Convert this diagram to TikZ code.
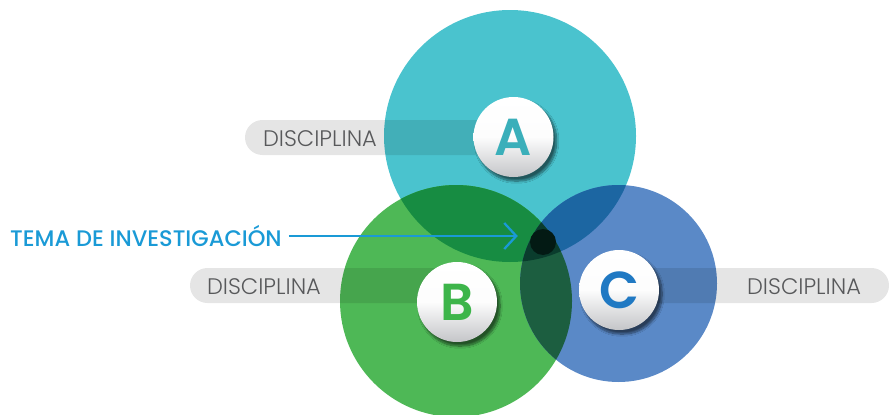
\documentclass[tikz,border=0pt]{standalone}
\usepackage{fontspec}
\setmainfont{Poppins}
\newfontfamily\lightfont{Poppins Light}
\newfontfamily\mediumfont{Poppins Medium}
\newfontfamily\semifont{Poppins SemiBold}
\usetikzlibrary{shadows.blur,arrows.meta}

\definecolor{circA}{RGB}{74,195,206}
\definecolor{circB}{RGB}{78,184,86}
\definecolor{circC}{RGB}{90,137,199}
\definecolor{ovAB}{RGB}{23,140,66}
\definecolor{ovAC}{RGB}{28,102,162}
\definecolor{ovBC}{RGB}{28,94,64}
\definecolor{ovABC}{RGB}{10,60,45}
\definecolor{hub}{RGB}{3,26,20}
\definecolor{labelgray}{RGB}{88,89,91}
\definecolor{temablue}{RGB}{26,154,214}
\definecolor{letA}{RGB}{58,175,186}
\definecolor{letB}{RGB}{61,181,74}
\definecolor{letC}{RGB}{32,121,195}
\definecolor{badgelow}{RGB}{196,197,200}

\tikzset{
  pill/.style={fill=black, fill opacity=0.1, rounded corners=17.5pt},
  disc/.style={text=labelgray, font=\lightfont\fontsize{22.5}{22.5}\selectfont, inner sep=0pt},
  badge/.style={circle, minimum size=80pt, inner sep=0pt,
    top color=white, bottom color=badgelow, middle color=white!96!badgelow,
    blur shadow={shadow xshift=3pt, shadow yshift=-4pt, shadow blur steps=10,
      shadow blur extra rounding=2pt, shadow opacity=55},
    font=\semifont\fontsize{52}{52}\selectfont},
}

\begin{document}
\begin{tikzpicture}[x=1pt,y=-1pt]
\useasboundingbox (0,0) rectangle (889,415);

% the three discipline circles
\fill[circA] (510,136) circle[radius=126];
\fill[circB] (456,301) circle[radius=116];
\fill[circC] (618.5,283.5) circle[radius=98.5];

% pairwise overlaps
\begin{scope}
  \clip (510,136) circle[radius=126];
  \fill[ovAB] (456,301) circle[radius=116];
  \fill[ovAC] (618.5,283.5) circle[radius=98.5];
\end{scope}
\begin{scope}
  \clip (456,301) circle[radius=116];
  \fill[ovBC] (618.5,283.5) circle[radius=98.5];
  \clip (510,136) circle[radius=126];
  \fill[ovABC] (618.5,283.5) circle[radius=98.5];
\end{scope}

% label bars
\fill[pill] (245,120) rectangle (513,155);
\fill[pill] (190,268) rectangle (457,303);
\fill[pill] (619,268) rectangle (889,303);

% labels
\node[disc] (dA) at (320,139) {DISCIPLINA};
\node[disc] (dB) at (264,287) {DISCIPLINA};
\node[disc] (dC) at (804,287) {DISCIPLINA};

% common topic point
\node[circle, fill=hub, minimum size=26pt, inner sep=0pt] (hub) at (543,242) {};

% badges
\node[badge, text=letA] (bA) at (513.5,137) {A};
\node[badge, text=letB] (bB) at (457,302) {B};
\node[badge, text=letC] (bC) at (619,290) {C};

% topic label and arrow
\node[text=temablue, font=\mediumfont\fontsize{22.5}{22.5}\selectfont, inner sep=0pt, anchor=west] (tema) at (10,236) {TEMA DE INVESTIGACIÓN};
\draw[temablue, line width=2.3pt, shorten <=7pt, shorten >=12pt,
  -{Straight Barb[length=12pt,width=26pt,line width=2.3pt]}] (tema.east) -- (tema.east -| hub.west);
\end{tikzpicture}
\end{document}
